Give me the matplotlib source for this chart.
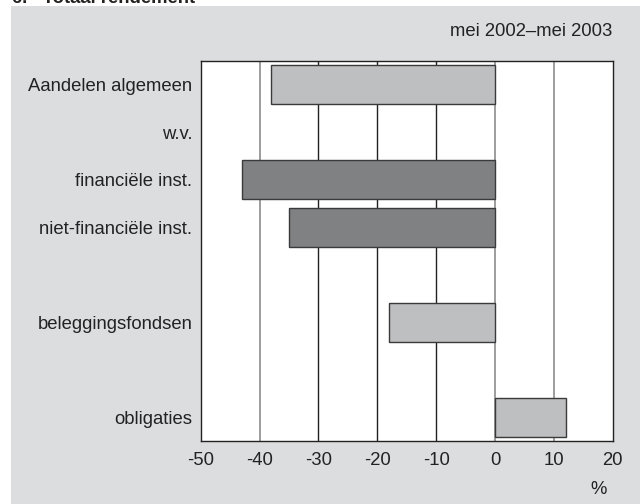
import matplotlib
matplotlib.use("Agg")
import matplotlib.pyplot as plt
from matplotlib.patches import Rectangle

plt.rcParams['font.family'] = ['Liberation Sans', 'DejaVu Sans']

categories = ["Aandelen algemeen", "w.v.", "financiële inst.", "niet-financiële inst.",
              "", "beleggingsfondsen", "", "obligaties"]
values = [-38, None, -43, -35, None, -18, None, 12]
bar_kind = ["light", None, "dark", "dark", None, "light", None, "light"]
xticks = [-50, -40, -30, -20, -10, 0, 10, 20]
grid_dark = [-30, -20, -10]
period = "mei 2002–mei 2003"
title = "6.   Totaal rendement"

colors = {"light": "#bebfc1", "dark": "#808183"}

fig = plt.figure(figsize=(6.4, 5.04), dpi=100)
fig.patch.set_facecolor("white")
bg = Rectangle((11 / 640, 0), 1 - 11 / 640, 1 - 6 / 504, transform=fig.transFigure,
               facecolor="#dcdddf", edgecolor="none", zorder=-10)
fig.patches.append(bg)

ax = fig.add_axes([200.7 / 640, 1 - 441 / 504, 412 / 640, 380 / 504])
ax.set_facecolor("white")

for t in xticks[1:-1]:
    if t in grid_dark:
        ax.axvline(t, color="#222222", lw=1.0, zorder=1)
    else:
        ax.axvline(t, color="#959595", lw=1.3, zorder=1)

for i, (v, k) in enumerate(zip(values, bar_kind)):
    if v is None:
        continue
    ax.barh(i, v, height=0.82, color=colors[k], edgecolor="#3a3a3a", linewidth=1.0, zorder=2)

ax.set_xlim(-50, 20)
ax.set_ylim(7.5, -0.5)
ax.set_xticks(xticks)
ax.set_xticklabels([str(t) for t in xticks], fontsize=13.3, color="#222222")
ax.set_yticks(range(len(categories)))
ax.set_yticklabels(categories, fontsize=13.3, color="#222222")
ax.tick_params(axis="x", length=0, pad=8)
ax.tick_params(axis="y", length=0, pad=6)
for s in ax.spines.values():
    s.set_color("#222222")
    s.set_linewidth(1.0)

fig.text(612 / 640, 1 - 32 / 504, period, ha="right", va="center", fontsize=13.3, color="#222222")
fig.text(599 / 640, 1 - 489 / 504, "%", ha="center", va="center", fontsize=13.3, color="#222222")
fig.text(12 / 640, 1 - 3 / 504, title, ha="left", va="baseline", fontsize=13.3,
         fontweight="bold", color="#222222")

fig.savefig("out.png", dpi=100)
